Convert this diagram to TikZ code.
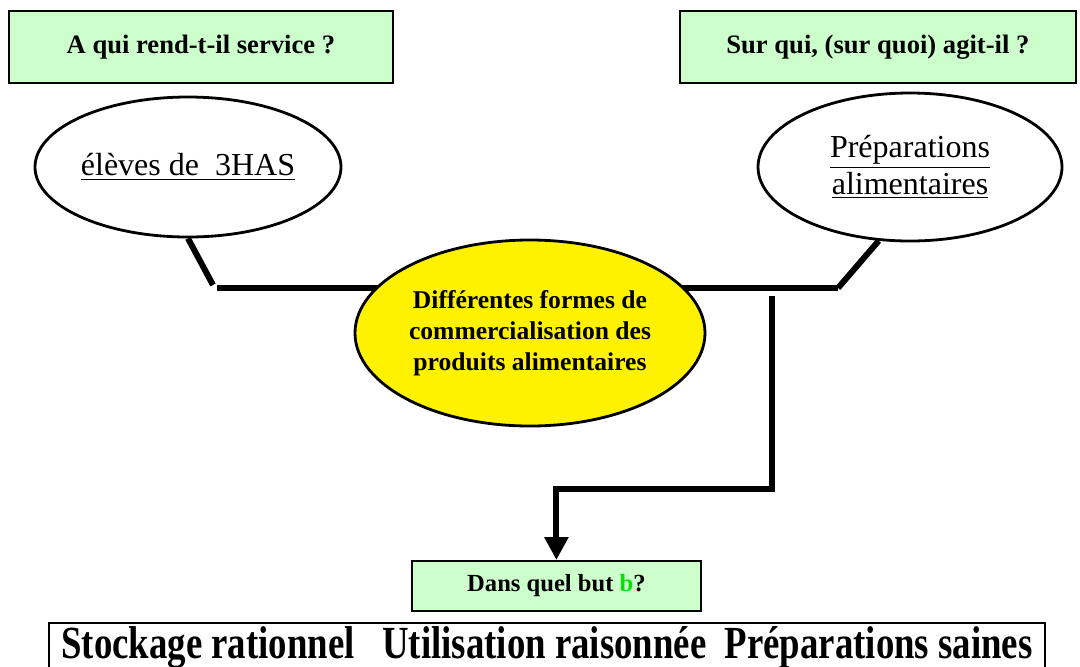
\documentclass[tikz,border=0pt]{standalone}
\usepackage{fontspec}
\setmainfont{Liberation Serif}
\newfontfamily\narrowserif[FakeStretch=0.8]{Liberation Serif}
\usepackage{xcolor}
\usetikzlibrary{arrows.meta}
\usetikzlibrary{shapes.geometric}
\usetikzlibrary{backgrounds}

\definecolor{paleGreen}{HTML}{CCFFCC}
\definecolor{brightGreen}{HTML}{00E600}

\begin{document}
\begin{tikzpicture}[
                    x = 0.5pt, y = -0.5pt, % one unit = one pixel
                    > = {Triangle[width=11.5pt, length=11.5pt]}, % arrow head style
                    link/.style = {line width = 3pt}, % thick connectors
                    semithick % line style
            ]

            \tikzstyle{question}=[
                draw = black,
                line width = 0.9pt,
                fill = paleGreen,
                font = \bfseries\fontsize{13.3}{16}\selectfont,
                anchor = north west,
                inner sep = 0pt
            ]
            \tikzstyle{bubble}=[
                ellipse,
                draw = black,
                line width = 1.4pt,
                fill = white,
                inner sep = 0pt,
                align = center,
                font = \fontsize{16}{19.5}\selectfont
            ]

            \useasboundingbox (0,0) rectangle (1080,666);

            \node[question, minimum width=192pt, minimum height=36pt] (Q1) at (8,10) {A qui rend-t-il service ?};
            \node[question, minimum width=198pt, minimum height=36pt] (Q2) at (679,10) {Sur qui, (sur quoi) agit-il ?};

            \node[bubble, minimum width=153pt, minimum height=70pt] (E1) at (188,167) {\underline{élèves de\ \ 3HAS}};
            \node[bubble, minimum width=152pt, minimum height=74pt] (E2) at (910,167) {\underline{Préparations}\\[-1pt]\underline{alimentaires}};

            \node[bubble, fill=yellow, minimum width=175pt, minimum height=93pt,
                  font=\bfseries\fontsize{12.8}{15.5}\selectfont] (C) at (530,333)
                  {Différentes formes de\\commercialisation des\\produits alimentaires};

            \node[question, font=\bfseries\fontsize{12.3}{14}\selectfont, minimum width=144.5pt, minimum height=25pt] (Q3) at (411,560)
                  {Dans quel but \textcolor{brightGreen}{b}?\hspace{6pt}};

            \node[draw, line width=0.9pt, anchor=north west, minimum width=498pt, minimum height=25pt, inner sep=0pt,
                  font=\narrowserif\bfseries\fontsize{23}{26}\selectfont] (B) at (48,622)
                  {\raisebox{-3pt}{Stockage rationnel\ \ \ Utilisation raisonnée\ \ Préparations saines}\hspace{10pt}};

            \coordinate (LK) at (213,285);
            \coordinate (LH) at (217,288);
            \coordinate (RK) at (838,288);
            \coordinate (VT) at (772,296);
            \coordinate (VB) at (772,489);

            \begin{scope}[on background layer]
                \draw[link] (E1.south) -- (LK);
                \draw[link] (LH) -- (C.center |- LH);
                \draw[link] (C.center |- RK) -- (RK);
            \end{scope}
            \draw[link] (RK) -- (E2.247);
            \draw[link, ->, line join=miter] (VT) -- (VB) -| (Q3.north);
        \end{tikzpicture}
\end{document}
